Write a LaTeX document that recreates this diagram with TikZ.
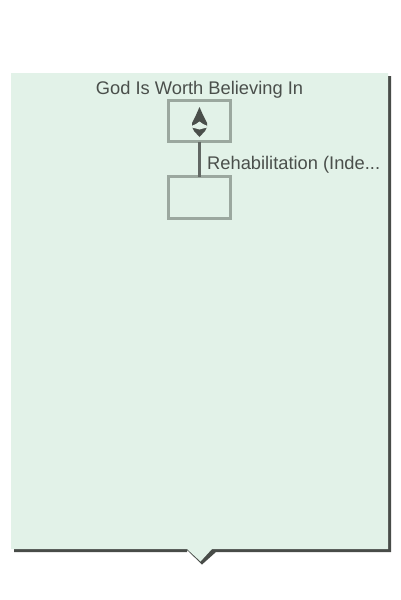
\documentclass[tikz,border=0pt]{standalone}
\usepackage{fontspec}
\setmainfont{Liberation Sans}
\definecolor{panel}{HTML}{E2F2E8}
\definecolor{edge}{HTML}{484C48}
\definecolor{boxline}{HTML}{9BA89F}
\definecolor{ink}{HTML}{4A4F4B}
\definecolor{linkc}{HTML}{626864}
\tikzset{
  treebox/.style={draw=boxline,line width=3pt,fill=panel,minimum width=62pt,minimum height=41pt,inner sep=0pt,outer sep=0pt},
  lab/.style={text=ink,font=\fontsize{18.3}{20}\selectfont,inner sep=0pt}
}
\begin{document}
\begin{tikzpicture}[x=1pt,y=-1pt]
\useasboundingbox (0,0) rectangle (400,600);
\fill[white] (0,0) rectangle (400,600);
\fill[edge] (14,76) -- (391,76) -- (391,552) -- (216,552) -- (202,564.5) -- (187,550) -- (187,552) -- (14,552) -- cycle;
\fill[panel] (11,73) -- (388,73) -- (388,549) -- (212,549) -- (200.5,561.5) -- (187,549) -- (11,549) -- cycle;
\node[treebox] (top) at (199.5,121) {};
\node[treebox,minimum height=42pt] (bottom) at (199.5,197.5) {};
\draw[linkc,line width=3pt] (top) -- (bottom);
\node[lab,anchor=base] (title) at (199.5,94) {God Is Worth Believing In};
\node[lab,anchor=base west] (edgelabel) at (207,169) {Rehabilitation (Inde...};
\fill[ink] (199.5,107) -- (203,115) -- (207,123) -- (207,127) -- (205,131) -- (199.5,137) -- (194,131) -- (192,127) -- (192,123) -- (196,115) -- cycle;
\fill[panel] (199.5,121.5) -- (203,124) -- (207.5,126) -- (207.5,127.5) -- (203,128.5) -- (199.5,129.5) -- (196,128.5) -- (191.5,127.5) -- (191.5,126) -- (196,124) -- cycle;
\end{tikzpicture}
\end{document}
